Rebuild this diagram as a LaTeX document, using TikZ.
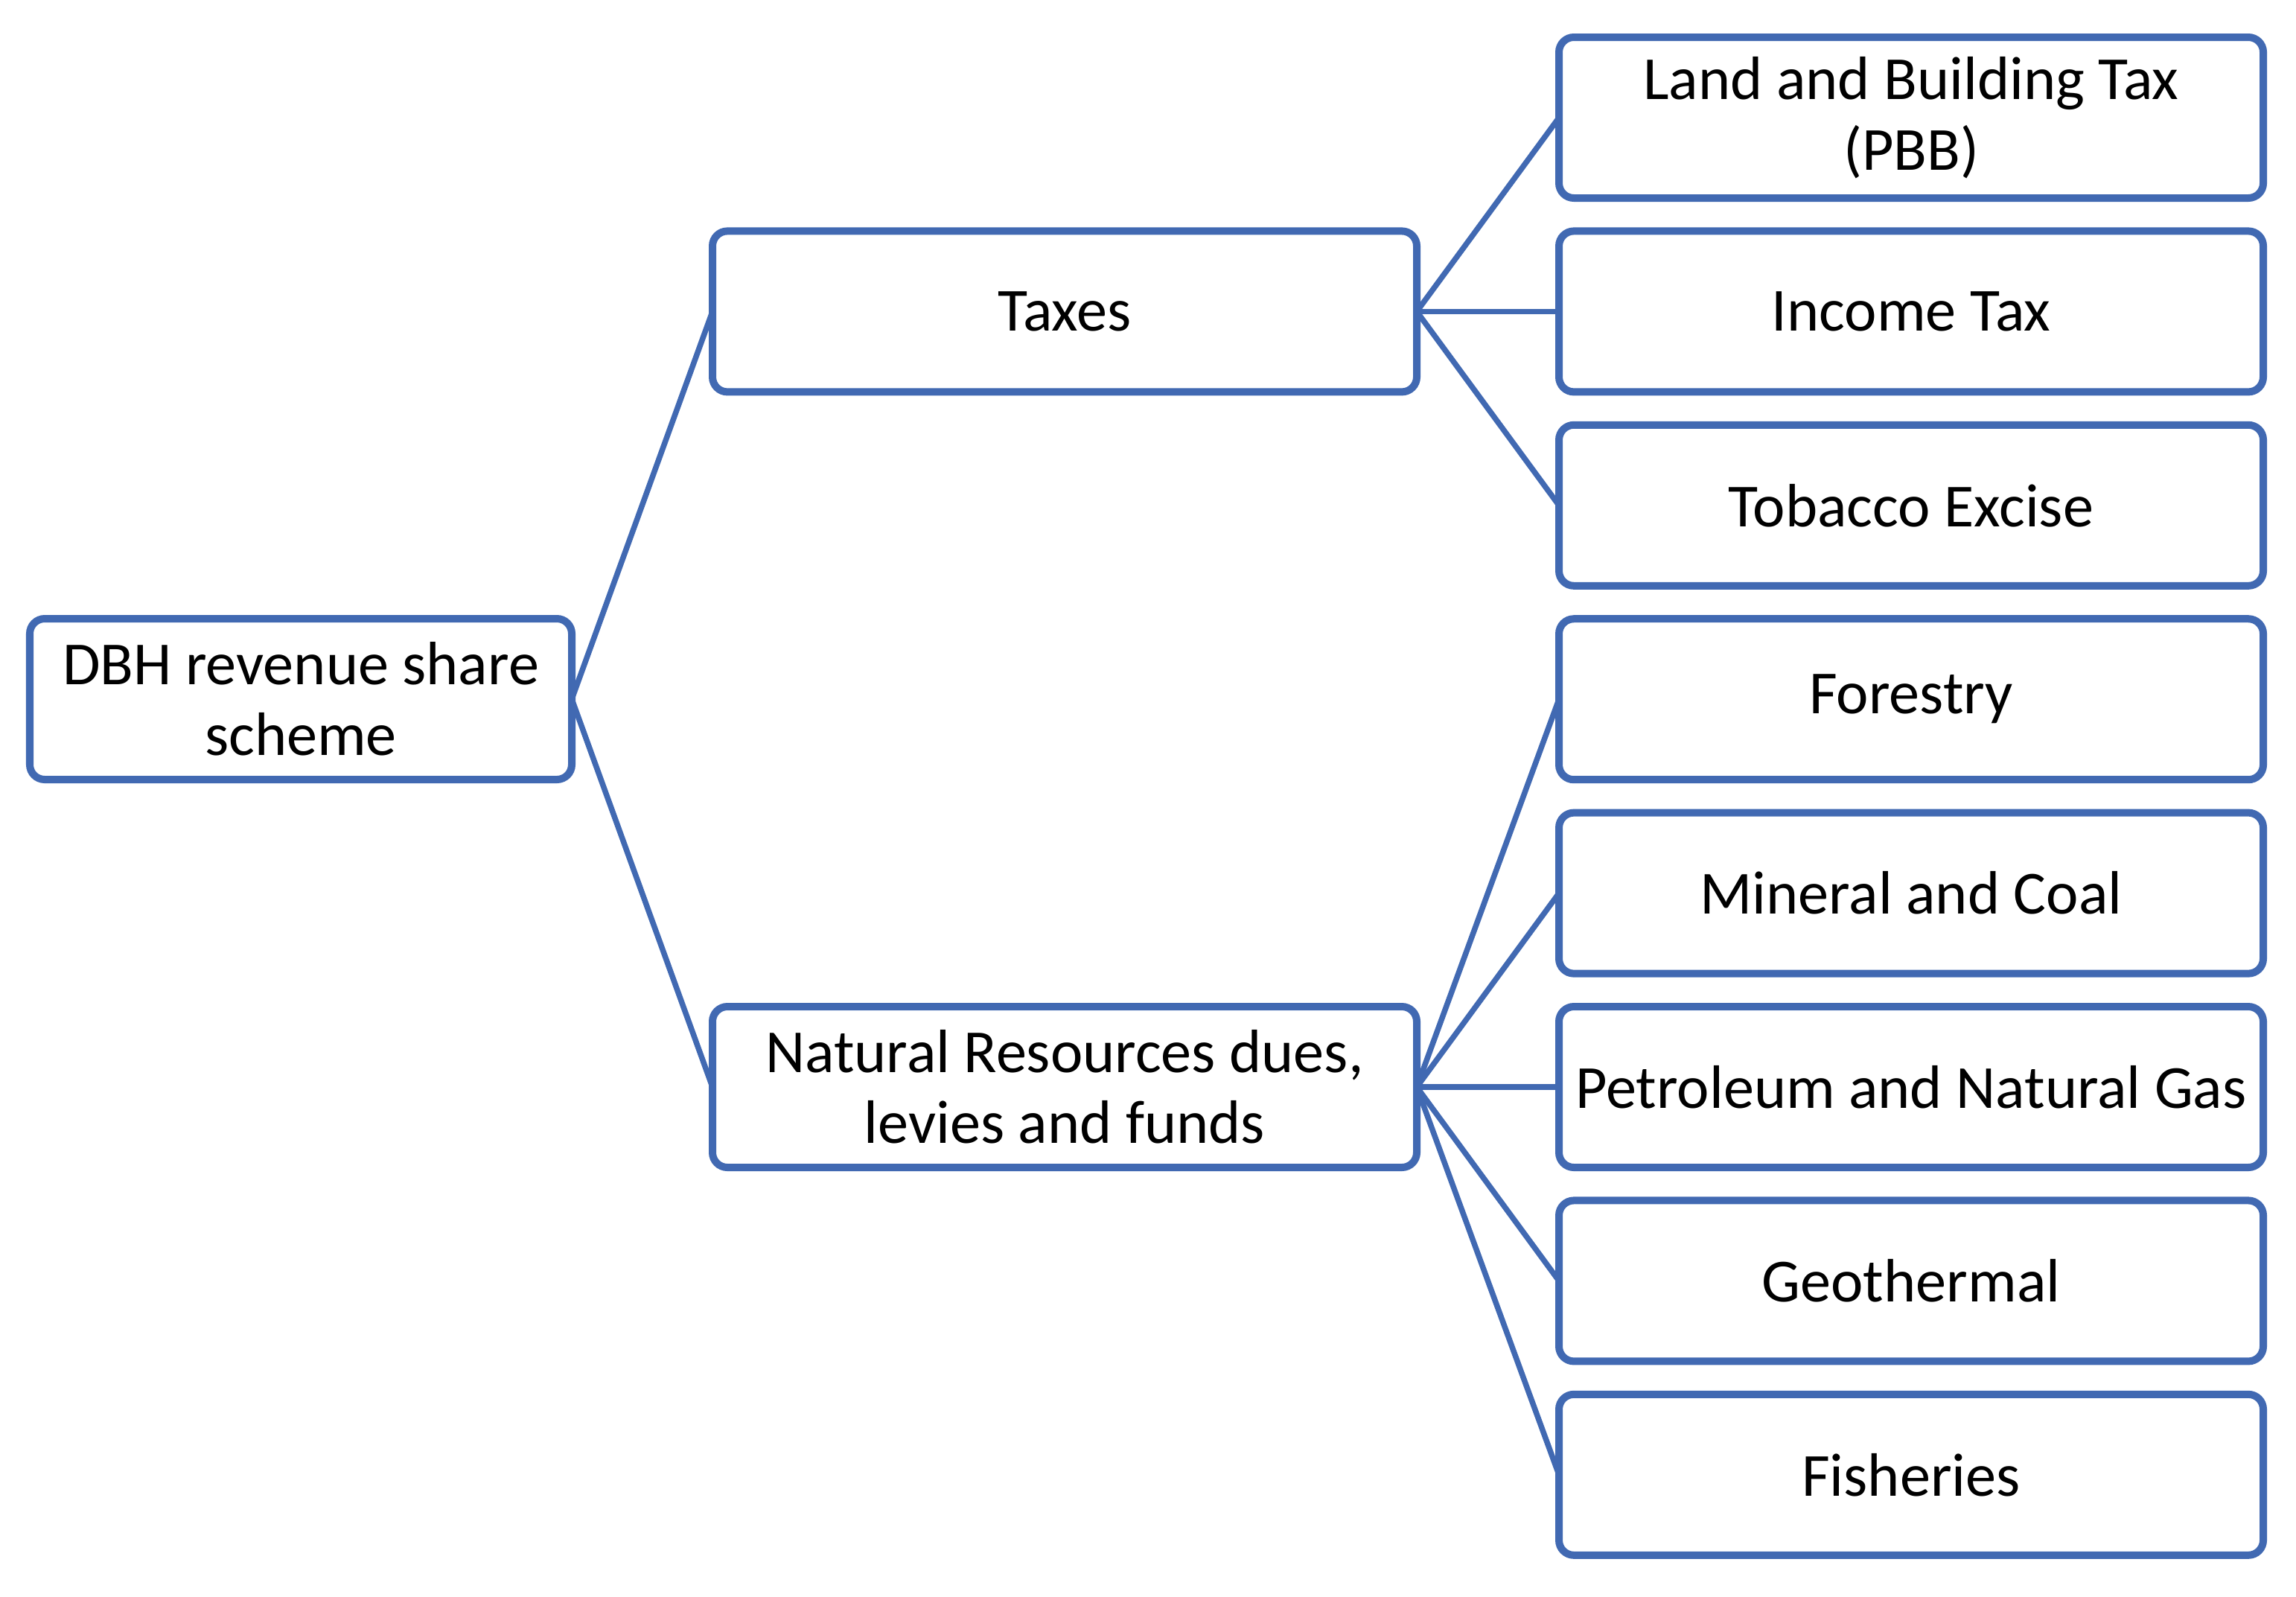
\documentclass[tikz,border=0pt]{standalone}
\usepackage{fontspec}
\setmainfont{Carlito}
\definecolor{boxblue}{RGB}{65,105,178}
\begin{document}
\begin{tikzpicture}[
  box/.style={draw=boxblue, line width=0.1cm, rounded corners=0.2cm, fill=white,
    minimum width=9.46cm, minimum height=2.16cm, align=center, inner sep=0pt, outer sep=0pt,
    font=\fontsize{23.4}{27}\selectfont},
  link/.style={draw=boxblue, line width=0.075cm}
]
\useasboundingbox (0,0) rectangle (30.84,-21.44);
% left
\node[box, minimum width=7.28cm] (dbh) at (4.04,-9.39) {DBH revenue share\\scheme};
% middle
\node[box] (tax) at (14.30,-4.184) {Taxes};
\node[box] (nr) at (14.30,-14.60) {Natural Resources dues,\\levies and funds};
% right
\node[box] (pbb) at (25.67,-1.58) {Land and Building Tax\\(PBB)};
\node[box] (inc) at (25.67,-4.184) {Income Tax};
\node[box] (tob) at (25.67,-6.788) {Tobacco Excise};
\node[box] (for) at (25.67,-9.392) {Forestry};
\node[box] (min) at (25.67,-11.996) {Mineral and Coal};
\node[box] (pet) at (25.67,-14.60) {Petroleum and Natural Gas};
\node[box] (geo) at (25.67,-17.204) {Geothermal};
\node[box] (fis) at (25.67,-19.808) {Fisheries};
% connectors
\draw[link] (dbh.east) -- (tax.west);
\draw[link] (dbh.east) -- (nr.west);
\foreach \t in {pbb,inc,tob}{\draw[link] (tax.east) -- (\t.west);}
\foreach \t in {for,min,pet,geo,fis}{\draw[link] (nr.east) -- (\t.west);}
\end{tikzpicture}
\end{document}
